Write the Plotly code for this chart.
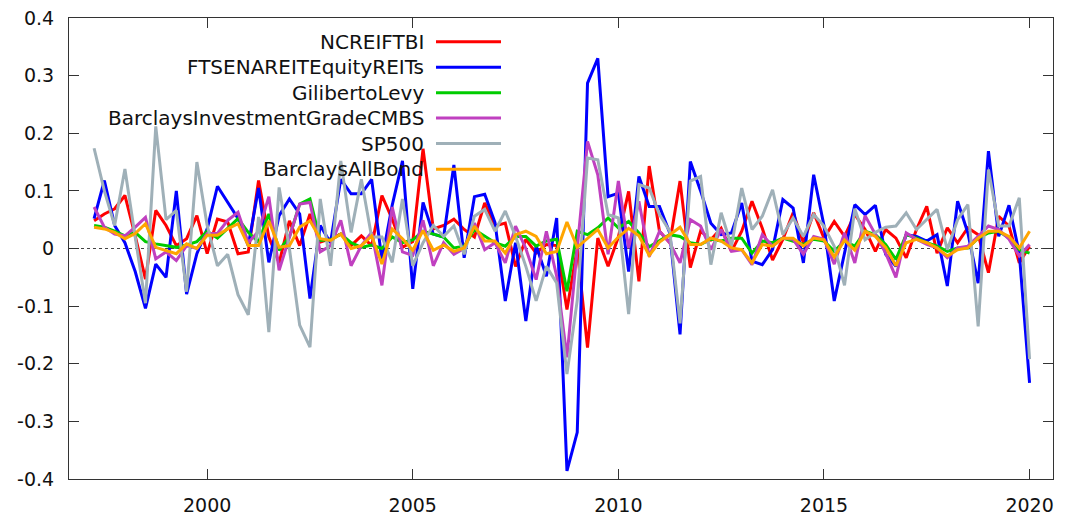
import plotly.graph_objects as go

# quarterly observation dates (decimal years)
n_obs = 92
start_year = 1997.25
dates = [start_year + 0.25 * i for i in range(n_obs)]

ncreif = [
    0.048, 0.06, 0.069, 0.092, 0.022, -0.053, 0.066, 0.04, 0.005, 0.017,
    0.057, -0.009, 0.051, 0.046, -0.009, -0.006, 0.118, 0.02, -0.025, 0.048,
    0.005, 0.06, 0.011, 0.017, 0.025, 0.005, 0.022, 0.005, 0.092, 0.051,
    0.002, 0.012, 0.173, 0.034, 0.04, 0.051, 0.033, 0.02, 0.079, 0.039,
    0.044, -0.031, 0.016, -0.008, 0.007, 0.005, -0.106, 0.0, -0.172, 0.018,
    -0.031, 0.02, 0.099, -0.057, 0.143, 0.03, 0.01, 0.117, -0.033, 0.03,
    0.015, 0.035, -0.005, 0.03, 0.082, 0.035, -0.02, 0.016, 0.062, 0.01,
    0.062, 0.018, 0.047, 0.021, 0.059, 0.033, -0.005, 0.033, 0.018, -0.016,
    0.033, 0.073, -0.008, 0.036, 0.01, 0.036, 0.024, -0.042, 0.056, 0.039,
    -0.025, 0.004,
]

reits = [
    0.052, 0.118, 0.04, 0.01, -0.04, -0.104, -0.027, -0.05, 0.10, -0.079,
    -0.009, 0.034, 0.108, 0.08, 0.052, 0.005, 0.105, -0.024, 0.057, 0.086,
    0.06, -0.087, 0.04, 0.01, 0.12, 0.095, 0.095, 0.12, -0.02, 0.075,
    0.152, -0.07, 0.08, 0.025, 0.02, 0.145, -0.016, 0.09, 0.094, 0.045,
    -0.091, 0.01, -0.126, 0.005, -0.048, 0.053, -0.386, -0.319, 0.287, 0.33,
    0.09, 0.096, -0.04, 0.125, 0.073, 0.073, 0.027, -0.149, 0.151, 0.1,
    0.044, 0.024, 0.027, 0.079, -0.022, -0.028, -0.002, 0.085, 0.07, -0.025,
    0.128, 0.04, -0.091, -0.008, 0.076, 0.059, 0.075, -0.01, -0.031, 0.024,
    0.021, 0.013, 0.024, -0.065, 0.082, 0.027, -0.06, 0.169, 0.021, 0.075,
    -0.008, -0.233,
]

giliberto = [
    0.04, 0.037, 0.03, 0.022, 0.028, 0.012, 0.008, 0.005, 0.002, 0.006,
    0.012, 0.03, 0.018, 0.035, 0.052, 0.028, 0.011, 0.06, -0.003, 0.02,
    0.077, 0.086, 0.014, 0.015, 0.025, 0.01, 0.002, 0.006, 0.0, 0.02,
    0.01, 0.015, 0.03, 0.025, 0.02, 0.001, 0.004, 0.033, 0.021, 0.01,
    0.004, 0.021, 0.021, 0.004, 0.013, 0.016, -0.074, 0.03, 0.024, 0.036,
    0.053, 0.036, 0.047, 0.027, 0.003, 0.013, 0.024, 0.021, 0.01, 0.007,
    0.016, 0.013, 0.018, 0.018, -0.008, 0.013, 0.01, 0.018, 0.013, 0.007,
    0.016, 0.013, -0.005, 0.013, 0.004, 0.03, 0.024, 0.007, -0.019, 0.024,
    0.018, 0.01, 0.004, -0.005, 0.001, 0.001, 0.018, 0.027, 0.03, 0.018,
    -0.002, -0.008,
]

cmbs = [
    0.072, 0.037, 0.025, 0.022, 0.037, 0.054, -0.018, -0.006, -0.021, 0.005,
    0.0, 0.026, 0.026, 0.049, 0.063, 0.01, 0.03, 0.09, -0.038, 0.02,
    0.077, 0.08, -0.006, 0.005, 0.049, -0.03, 0.005, 0.028, -0.064, 0.072,
    -0.006, -0.012, 0.049, -0.03, 0.01, -0.01, 0.0, 0.044, -0.002, 0.01,
    -0.025, 0.039, 0.0, -0.054, 0.03, -0.048, -0.189, 0.0, 0.186, 0.128,
    -0.01, 0.117, 0.001, 0.082, -0.014, 0.03, 0.01, -0.025, 0.05, 0.039,
    -0.002, 0.033, -0.005, -0.002, -0.028, 0.024, 0.004, 0.018, 0.016, -0.01,
    0.021, 0.016, -0.027, 0.027, -0.025, 0.057, 0.025, -0.008, -0.05, 0.027,
    0.016, 0.007, 0.001, -0.016, 0.001, 0.004, 0.021, 0.039, 0.033, 0.016,
    -0.013, 0.007,
]

sp500 = [
    0.174, 0.10, 0.04, 0.138, 0.02, -0.095, 0.212, 0.05, 0.066, -0.075,
    0.15, 0.04, -0.03, -0.01, -0.08, -0.115, 0.055, -0.145, 0.106, 0.0,
    -0.133, -0.171, 0.086, -0.03, 0.152, 0.028, 0.12, 0.02, 0.02, -0.024,
    0.086, -0.03, 0.01, 0.04, 0.021, 0.039, -0.01, 0.056, 0.068, 0.03,
    0.065, 0.021, -0.031, -0.091, -0.031, -0.06, -0.218, -0.09, 0.157, 0.154,
    0.059, 0.053, -0.114, 0.111, 0.105, 0.059, 0.03, -0.13, 0.117, 0.125,
    -0.028, 0.062, 0.004, 0.105, 0.033, 0.056, 0.102, 0.024, 0.053, 0.021,
    0.059, 0.039, 0.004, -0.064, 0.069, 0.015, 0.028, 0.037, 0.039, 0.062,
    0.033, 0.05, 0.068, -0.002, 0.05, 0.076, -0.135, 0.137, 0.039, 0.039,
    0.088, -0.192,
]

allbond = [
    0.037, 0.034, 0.028, 0.017, 0.026, 0.043, 0.002, -0.003, -0.009, 0.008,
    0.0, 0.023, 0.023, 0.034, 0.043, 0.005, 0.005, 0.048, 0.002, 0.005,
    0.037, 0.048, 0.017, 0.014, 0.025, 0.0, 0.005, 0.022, -0.027, 0.034,
    0.017, -0.003, 0.031, -0.003, 0.006, -0.005, 0.001, 0.039, 0.013, 0.013,
    -0.008, 0.024, 0.03, 0.021, -0.009, -0.005, 0.046, 0.002, 0.018, 0.033,
    0.001, 0.02, 0.035, 0.022, -0.012, 0.011, 0.024, 0.037, 0.007, 0.007,
    0.018, 0.013, 0.001, -0.002, -0.025, 0.007, 0.004, 0.018, 0.018, 0.004,
    0.018, 0.015, -0.015, 0.015, -0.003, 0.03, 0.021, 0.002, -0.03, 0.01,
    0.016, 0.01, 0.001, -0.013, -0.002, 0.001, 0.018, 0.03, 0.03, 0.021,
    0.001, 0.03,
]

series_names = ["NCREIFTBI", "FTSENAREITEquityREITs", "GilibertoLevy",
                "BarclaysInvestmentGradeCMBS", "SP500", "BarclaysAllBond"]
series_values = [ncreif, reits, giliberto, cmbs, sp500, allbond]
series_colors = ["#ff0000", "#0000ff", "#00cc00", "#c040c0", "#9fb0b8", "#ffa500"]

x_ticks = [2000, 2005, 2010, 2015, 2020]
y_ticks = [-0.4, -0.3, -0.2, -0.1, 0.0, 0.1, 0.2, 0.3, 0.4]
y_ticktext = ["-0.4", "-0.3", "-0.2", "-0.1", "0", "0.1", "0.2", "0.3", "0.4"]

FONT = "DejaVu Sans"

fig = go.Figure()
for name, vals, col in zip(series_names, series_values, series_colors):
    fig.add_trace(go.Scatter(x=dates, y=vals, mode="lines", name=name,
                             line=dict(color=col, width=3), showlegend=False,
                             hoverinfo="skip"))

# plot-area geometry (pixels) for the gnuplot-style key
W, H = 1078, 517
L, R, T, B = 69, 25, 18, 38
pw, ph = W - L - R, H - T - B

def px_x(px):
    return (px - L) / pw

def px_y(py):
    return 1 - (py - T) / ph

key_rows = [41.7, 67.3, 92.7, 118.0, 143.6, 169.2]
annotations = []
shapes = [dict(type="line", xref="paper", yref="y", x0=0, x1=1, y0=0, y1=0,
               line=dict(color="#444444", width=1.2, dash="dot"), layer="below")]
for name, col, ry in zip(series_names, series_colors, key_rows):
    annotations.append(dict(xref="paper", yref="paper", x=px_x(426), y=px_y(ry),
                            text=name, showarrow=False, xanchor="right",
                            yanchor="middle",
                            font=dict(family=FONT, size=20, color="#111111")))
    shapes.append(dict(type="line", xref="paper", yref="paper",
                       x0=px_x(436), x1=px_x(501), y0=px_y(ry), y1=px_y(ry),
                       line=dict(color=col, width=3)))

axis_common = dict(showline=True, linecolor="#333333", linewidth=1,
                   mirror="ticks", ticks="inside", ticklen=10, tickwidth=1,
                   tickcolor="#333333", showgrid=False, zeroline=False,
                   automargin=False,
                   tickfont=dict(family=FONT, size=19, color="#111111"))

fig.update_layout(
    width=W, height=H,
    margin=dict(l=L, r=R, t=T, b=B, autoexpand=False),
    paper_bgcolor="white", plot_bgcolor="white",
    xaxis=dict(range=[1996.64, 2020.57], tickvals=x_ticks,
               ticktext=[str(v) for v in x_ticks], ticklabelstandoff=9,
               **axis_common),
    yaxis=dict(range=[-0.4, 0.4], tickvals=y_ticks, ticktext=y_ticktext,
               ticklabelstandoff=10, **axis_common),
    annotations=annotations,
    shapes=shapes,
    showlegend=False,
    hovermode=False,
)

fig.write_html("out.html",
               config={"displayModeBar": False, "staticPlot": True},
               post_script="document.body.style.margin='0';"
                           "document.body.style.overflow='hidden';")
